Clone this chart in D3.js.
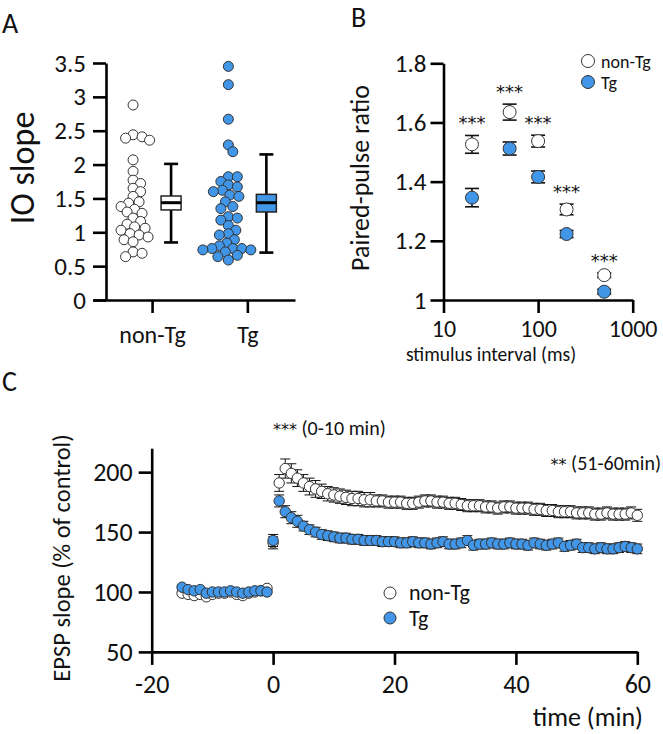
<!DOCTYPE html>
<html>
<head>
<meta charset="utf-8">
<script src="https://cdn.jsdelivr.net/npm/d3@7/dist/d3.min.js"></script>
<style>
  body { margin: 0; background: #fff; }
  svg { display: block; }
  text { font-family: Carlito, Lato, "Open Sans", sans-serif; fill: #111; }
  .star { font-family: "DejaVu Sans", sans-serif; }
</style>
</head>
<body>
<svg id="chart" width="663" height="734"></svg>
<script>
// ---------------- DATA ----------------
// Panel A: IO slope, individual values
const groupsA = ["non-Tg", "Tg"];
const ioNonTg = [2.88, 2.44, 2.41, 2.39, 2.36, 2.07, 1.90, 1.77, 1.72, 1.65, 1.60, 1.53, 1.45, 1.43, 1.38,
  1.34, 1.30, 1.28, 1.21, 1.16, 1.12, 1.08, 1.06, 1.03, 0.98, 0.96, 0.93, 0.89, 0.86, 0.71, 0.69, 0.64];
const ioTg = [3.45, 3.18, 2.67, 2.29, 2.19, 1.82, 1.82, 1.75, 1.70, 1.67, 1.62, 1.60, 1.55, 1.53, 1.45, 1.38,
  1.35, 1.23, 1.21, 1.18, 1.10, 1.03, 0.98, 0.96, 0.89, 0.84, 0.80, 0.76, 0.76, 0.76, 0.74, 0.74, 0.71,
  0.66, 0.64, 0.59];
// Box summaries [non-Tg, Tg]
const boxLow  = [0.85, 0.70];
const boxQ1   = [1.33, 1.30];
const boxMed  = [1.437, 1.437];
const boxQ3   = [1.536, 1.56];
const boxHigh = [2.01, 2.15];
const ticksA = [0, 0.5, 1, 1.5, 2, 2.5, 3, 3.5];

// Panel B: paired-pulse ratio
const intervalsB = [20, 50, 100, 200, 500];
const ppNonTg    = [1.526, 1.635, 1.537, 1.306, 1.084];
const ppNonTgErr = [0.030, 0.027, 0.020, 0.018, 0.008];
const ppTg       = [1.346, 1.512, 1.416, 1.223, 1.028];
const ppTgErr    = [0.031, 0.022, 0.020, 0.012, 0.008];
const ticksBy = [1, 1.2, 1.4, 1.6, 1.8];
const ticksBx = [10, 100, 1000];

// Panel C: LTP time course
const timeBase = [-15, -14, -13, -12, -11, -10, -9, -8, -7, -6, -5, -4, -3, -2, -1];
const baseNonTg = [99, 98, 97, 98, 96, 98, 99, 99, 100, 98, 97, 99, 100, 101, 103];
const baseTg    = [104, 102, 101, 102, 99, 100, 100, 100, 101, 100, 99, 100, 101, 101, 100];
const timeTet = [0];
const tetNonTg = [141];
const tetTg = [143];
const timePost = d3.range(1, 61);
const postNonTg = [191, 203, 199, 195, 191, 188, 186, 184, 182, 181, 180, 179, 178, 178, 177, 177, 176, 176, 175, 175,
  175, 174, 174, 175, 176, 176, 175, 175, 174, 174, 173, 172, 172, 172, 171, 171, 170, 171, 171, 170,
  170, 170, 169, 169, 168, 168, 167, 167, 167, 166, 166, 166, 165, 165, 166, 165, 165, 165, 166, 164];
const postTg = [176, 167, 162, 159, 155, 152, 150, 148, 147, 146, 145, 145, 144, 144, 143, 143, 143, 142, 142, 142,
  141, 141, 142, 141, 141, 140, 141, 142, 140, 140, 141, 143, 139, 140, 140, 141, 140, 140, 141, 140,
  140, 139, 141, 140, 139, 140, 141, 138, 139, 140, 137, 137, 136, 137, 136, 136, 137, 138, 137, 136];
const errNonTgPost = [7, 8, 8, 7, 7, 7, 7, 6, 6, 6, 6, 6, 6, 6, 6, 6, 5, 5, 5, 5, 5, 5, 5, 5, 5, 5, 5, 5, 5, 5,
  5, 5, 5, 5, 5, 5, 5, 5, 5, 5, 5, 5, 5, 5, 5, 5, 5, 5, 5, 5, 5, 5, 5, 5, 5, 5, 5, 5, 5, 5];
const errTgPost = [5, 5, 5, 5, 4, 4, 4, 4, 4, 4, 4, 4, 4, 4, 4, 4, 4, 4, 4, 4, 4, 4, 4, 4, 4, 4, 4, 4, 4, 4,
  4, 4, 4, 4, 4, 4, 4, 4, 4, 4, 4, 4, 4, 4, 4, 4, 4, 4, 4, 4, 4, 4, 4, 4, 4, 4, 4, 4, 4, 4];
const errBase = 1.5;
const errTet = 5;
const ticksCy = [50, 100, 150, 200];
const ticksCx = [-20, 0, 20, 40, 60];

// ---------------- STYLE ----------------
const BLUE = "#4196E8";
const svg = d3.select("#chart");
const AXW = 2.6;

function styleAxis(g, fs) {
  g.selectAll("path.domain").attr("stroke", "#000").attr("stroke-width", AXW);
  g.selectAll(".tick line").attr("stroke", "#000").attr("stroke-width", AXW);
  g.selectAll(".tick text").attr("font-size", fs).attr("fill", "#111")
    .style("font-family", "Carlito, Lato, 'Open Sans', sans-serif");
}

// ================= PANEL A =================
const yA = d3.scaleLinear().domain([0, 3.5]).range([300, 63]);
const xA = d3.scaleLinear().domain([-0.62, 1.5]).range([93, 295]);
const gA = svg.append("g");

gA.append("g").attr("transform", "translate(106,0)")
  .call(d3.axisLeft(yA).tickValues(ticksA).tickSize(13).tickSizeOuter(0).tickPadding(7)
    .tickFormat(d => String(d)))
  .call(g => styleAxis(g, 25));
gA.append("g").attr("transform", "translate(0,300)")
  .call(d3.axisBottom(xA).tickValues([0, 1]).tickSize(13).tickSizeOuter(0).tickPadding(13)
    .tickFormat(i => groupsA[i]))
  .call(g => styleAxis(g, 24));

// beeswarm layout
function swarm(values, r, cx) {
  const placed = [];
  const sorted = values.map((v, i) => ({ v, i })).sort((a, b) => b.v - a.v);
  const minD = 2 * r * 0.78;
  sorted.forEach(p => {
    const py = yA(p.v);
    let best = 0;
    const cands = [0];
    for (let k = 1; k < 40; k++) { cands.push(k * 1.5, -k * 1.5); }
    for (const dx of cands) {
      const ok = placed.every(q => Math.hypot(q.x - (cx + dx), q.y - py) >= minD);
      if (ok) { best = dx; break; }
    }
    placed.push({ x: cx + best, y: py, v: p.v });
  });
  return placed;
}

[[ioNonTg, "#fff"], [ioTg, BLUE]].forEach(([vals, fill], gi) => {
  const cx = xA(gi) - 19;
  const pts = swarm(vals, 5, cx);
  gA.append("g").selectAll("circle").data(pts).join("circle")
    .attr("cx", d => d.x).attr("cy", d => d.y).attr("r", 5)
    .attr("fill", fill).attr("stroke", "#333").attr("stroke-width", 1);
  // box
  const bx = xA(gi) + 19;
  const bg = gA.append("g");
  bg.append("line").attr("x1", bx).attr("x2", bx).attr("y1", yA(boxHigh[gi])).attr("y2", yA(boxLow[gi]))
    .attr("stroke", "#000").attr("stroke-width", AXW);
  [boxHigh[gi], boxLow[gi]].forEach(v => bg.append("line")
    .attr("x1", bx - 7).attr("x2", bx + 7).attr("y1", yA(v)).attr("y2", yA(v))
    .attr("stroke", "#000").attr("stroke-width", AXW));
  bg.append("rect").attr("x", bx - 10).attr("width", 20)
    .attr("y", yA(boxQ3[gi])).attr("height", yA(boxQ1[gi]) - yA(boxQ3[gi]))
    .attr("fill", fill).attr("stroke", "#222").attr("stroke-width", 1.5);
  bg.append("line").attr("x1", bx - 10).attr("x2", bx + 10).attr("y1", yA(boxMed[gi])).attr("y2", yA(boxMed[gi]))
    .attr("stroke", "#000").attr("stroke-width", 3);
});

gA.append("text").attr("transform", "translate(34,168) rotate(-90)").attr("text-anchor", "middle")
  .attr("font-size", 34).text("IO slope");
svg.append("text").attr("x", 2).attr("y", 33).attr("font-size", 28).text("A");

// ================= PANEL B =================
const xB = d3.scaleLog().domain([10, 1000]).range([443.5, 632.7]);
const yB = d3.scaleLinear().domain([1, 1.8]).range([300, 63.3]);
const gB = svg.append("g");
gB.append("g").attr("transform", "translate(443.5,0)")
  .call(d3.axisLeft(yB).tickValues(ticksBy).tickSize(13).tickSizeOuter(0).tickPadding(4)
    .tickFormat(d => d === 1 ? "1" : d3.format(".1f")(d)))
  .call(g => styleAxis(g, 25));
gB.append("g").attr("transform", "translate(0,300)")
  .call(d3.axisBottom(xB).tickValues(ticksBx).tickSize(13).tickSizeOuter(0).tickPadding(7)
    .tickFormat(d3.format("d")))
  .call(g => styleAxis(g, 24));

function errBars(g, xs, ys, es, xScale, yScale, hw, sw) {
  g.append("g").selectAll("g").data(xs.map((x, i) => ({ x, y: ys[i], e: es[i] }))).join("g")
    .each(function (d) {
      const s = d3.select(this);
      const X = xScale(d.x);
      s.append("line").attr("x1", X).attr("x2", X).attr("y1", yScale(d.y + d.e)).attr("y2", yScale(d.y - d.e))
        .attr("stroke", "#111").attr("stroke-width", sw);
      [d.y + d.e, d.y - d.e].forEach(v => s.append("line").attr("x1", X - hw).attr("x2", X + hw)
        .attr("y1", yScale(v)).attr("y2", yScale(v)).attr("stroke", "#111").attr("stroke-width", sw));
    });
}
errBars(gB, intervalsB, ppNonTg, ppNonTgErr, xB, yB, 7, 1.6);
errBars(gB, intervalsB, ppTg, ppTgErr, xB, yB, 7, 1.6);
gB.append("g").selectAll("circle").data(intervalsB).join("circle")
  .attr("cx", d => xB(d)).attr("cy", (d, i) => yB(ppNonTg[i])).attr("r", 6.5)
  .attr("fill", "#fff").attr("stroke", "#333").attr("stroke-width", 1);
gB.append("g").selectAll("circle").data(intervalsB).join("circle")
  .attr("cx", d => xB(d)).attr("cy", (d, i) => yB(ppTg[i])).attr("r", 6.5)
  .attr("fill", BLUE).attr("stroke", "#333").attr("stroke-width", 1);
gB.append("g").selectAll("text").data(intervalsB).join("text")
  .attr("class", "star")
  .attr("x", d => xB(d)).attr("y", (d, i) => yB(ppNonTg[i] + ppNonTgErr[i]) - 6)
  .attr("text-anchor", "middle").attr("font-size", 18).text("***");

gB.append("text").attr("transform", "translate(369,178) rotate(-90)").attr("text-anchor", "middle")
  .attr("font-size", 26).text("Paired-pulse ratio");
gB.append("text").attr("x", 491).attr("y", 361).attr("text-anchor", "middle")
  .attr("font-size", 19.5).text("stimulus interval (ms)");
// legend B
gB.append("circle").attr("cx", 588).attr("cy", 61).attr("r", 6.5).attr("fill", "#fff").attr("stroke", "#333");
gB.append("text").attr("x", 601).attr("y", 68).attr("font-size", 18).text("non-Tg");
gB.append("circle").attr("cx", 588).attr("cy", 82).attr("r", 6.5).attr("fill", BLUE).attr("stroke", "#333");
gB.append("text").attr("x", 601).attr("y", 89).attr("font-size", 18).text("Tg");
svg.append("text").attr("x", 351).attr("y", 27).attr("font-size", 28).text("B");

// ================= PANEL C =================
const xC = d3.scaleLinear().domain([-20, 60]).range([151.7, 637.3]);
const yC = d3.scaleLinear().domain([50, 220]).range([651.9, 448.2]);
const gC = svg.append("g");
gC.append("g").attr("transform", "translate(151.7,0)")
  .call(d3.axisLeft(yC).tickValues(ticksCy).tickSize(13).tickSizeOuter(0).tickPadding(6)
    .tickFormat(d => String(d)))
  .call(g => styleAxis(g, 26));
gC.append("g").attr("transform", "translate(0,651.9)")
  .call(d3.axisBottom(xC).tickValues(ticksCx).tickSize(13).tickSizeOuter(0).tickPadding(10)
    .tickFormat(d => String(d)))
  .call(g => styleAxis(g, 26));

const tAll = timeBase.concat(timeTet, timePost);
const nonTgAll = baseNonTg.concat(tetNonTg, postNonTg);
const tgAll = baseTg.concat(tetTg, postTg);
const errNonTgAll = timeBase.map(() => errBase).concat([errTet], errNonTgPost);
const errTgAll = timeBase.map(() => errBase).concat([errTet], errTgPost);

errBars(gC, tAll, nonTgAll, errNonTgAll, xC, yC, 5, 1);
gC.append("g").selectAll("circle").data(tAll).join("circle")
  .attr("cx", d => xC(d)).attr("cy", (d, i) => yC(nonTgAll[i])).attr("r", 5.2)
  .attr("fill", "#fff").attr("stroke", "#333").attr("stroke-width", 1);
errBars(gC, tAll, tgAll, errTgAll, xC, yC, 5, 1);
gC.append("g").selectAll("circle").data(tAll).join("circle")
  .attr("cx", d => xC(d)).attr("cy", (d, i) => yC(tgAll[i])).attr("r", 5.2)
  .attr("fill", BLUE).attr("stroke", "#333").attr("stroke-width", 1);

gC.append("text").attr("transform", "translate(70,558) rotate(-90)").attr("text-anchor", "middle")
  .attr("font-size", 24.5).text("EPSP slope (% of control)");
gC.append("text").attr("x", 643).attr("y", 726).attr("text-anchor", "end")
  .attr("font-size", 26).text("time (min)");
const ann1 = gC.append("text").attr("x", 273).attr("y", 435).attr("font-size", 20);
ann1.append("tspan").attr("class", "star").attr("font-size", 16).text("***");
ann1.append("tspan").text(" (0-10 min)");
const ann2 = gC.append("text").attr("x", 661).attr("y", 470).attr("text-anchor", "end").attr("font-size", 20);
ann2.append("tspan").attr("class", "star").attr("font-size", 16).text("**");
ann2.append("tspan").text(" (51-60min)");
// legend C
gC.append("circle").attr("cx", 390).attr("cy", 593).attr("r", 6).attr("fill", "#fff").attr("stroke", "#333");
gC.append("text").attr("x", 409).attr("y", 600).attr("font-size", 22).text("non-Tg");
gC.append("circle").attr("cx", 390).attr("cy", 618).attr("r", 6).attr("fill", BLUE).attr("stroke", "#333");
gC.append("text").attr("x", 409).attr("y", 626).attr("font-size", 22).text("Tg");
svg.append("text").attr("x", 2).attr("y", 391).attr("font-size", 28).text("C");
</script>
</body>
</html>
